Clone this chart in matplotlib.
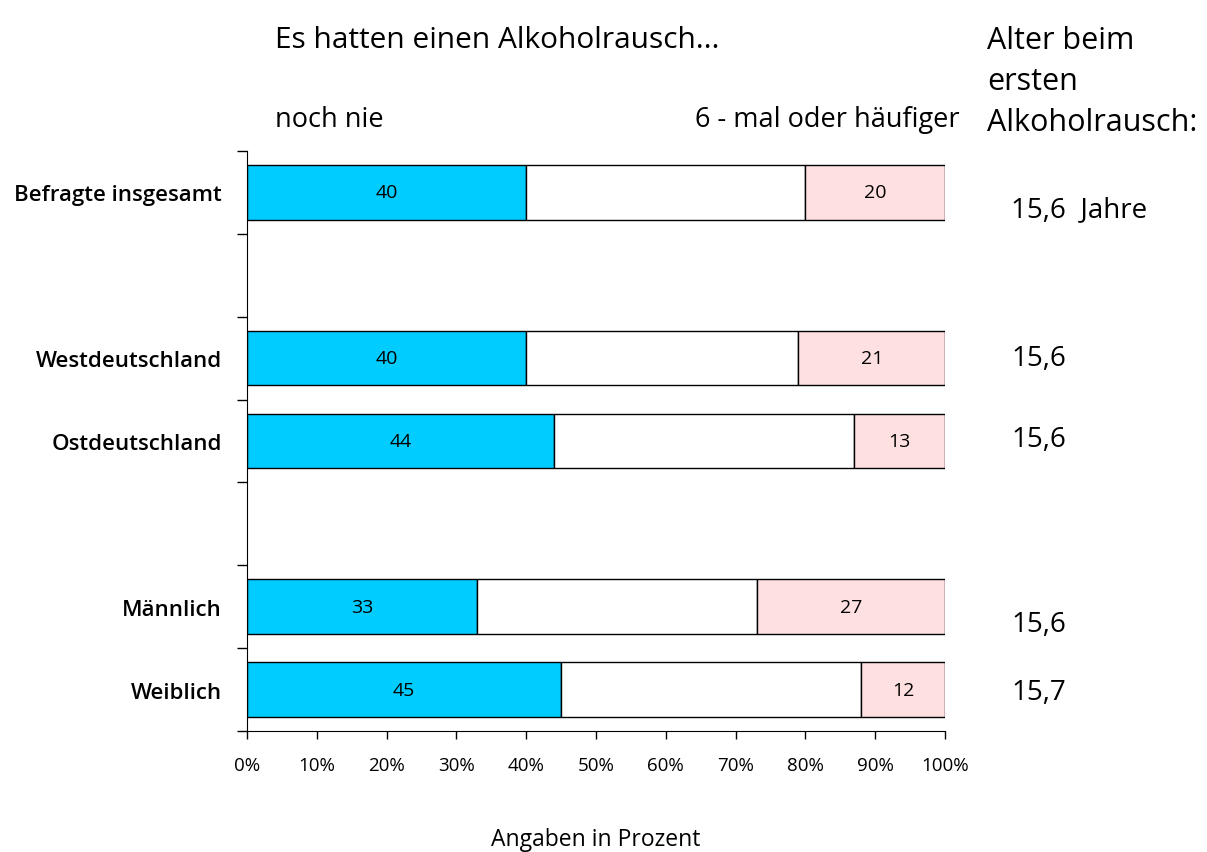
import matplotlib.pyplot as plt

plt.rcParams['font.family'] = ['Open Sans', 'DejaVu Sans']

# rows top to bottom, empty strings are the gaps
categories = ["Befragte insgesamt", "", "Westdeutschland", "Ostdeutschland", "",
              "Männlich", "Weiblich"]
noch_nie = [40, None, 40, 44, None, 33, 45]
mittel = [40, None, 39, 43, None, 40, 43]
sechs_mal = [20, None, 21, 13, None, 27, 12]
alter = ["15,6  Jahre", None, "15,6", "15,6", None, "15,6", "15,7"]
alter_shift = [0.2, 0, 0.0, -0.02, 0, 0.21, 0.03]
x_ticks = [0, 10, 20, 30, 40, 50, 60, 70, 80, 90, 100]

blue = '#00CCFF'
pink = '#FFE0E0'

fig = plt.figure(figsize=(12.07, 8.53), dpi=100)
ax = fig.add_axes([247/1207, 121/853, 698/1207, 580/853])

rows = [i for i, c in enumerate(categories) if c]
a = [noch_nie[i] for i in rows]
b = [mittel[i] for i in rows]
c = [sechs_mal[i] for i in rows]
left_c = [x + y for x, y in zip(a, b)]

h = 0.66
ax.barh(rows, a, height=h, color=blue, edgecolor='black', lw=1)
ax.barh(rows, b, left=a, height=h, color='white', edgecolor='black', lw=1)
ax.barh(rows, c, left=left_c, height=h, color=pink, edgecolor='black', lw=1)

for r, va, vc, lc in zip(rows, a, c, left_c):
    ax.text(va / 2, r, str(va), ha='center', va='center', fontsize=14)
    ax.text(lc + vc / 2, r, str(vc), ha='center', va='center', fontsize=14)
    ax.text(109.5, r + alter_shift[r], alter[r], ha='left', va='center',
            fontsize=20, clip_on=False)

ax.set_xlim(0, 100)
ax.set_ylim(len(categories) - 0.5, -0.5)

ax.set_yticks([i - 0.5 for i in range(len(categories) + 1)])
ax.set_yticklabels([])
ax.set_yticks(range(len(categories)), minor=True)
ax.set_yticklabels(categories, minor=True, fontsize=16, fontweight='semibold')
ax.tick_params(axis='y', which='minor', length=0, pad=18)
ax.tick_params(axis='y', which='major', length=7, width=1)

ax.set_xticks(x_ticks)
ax.set_xticklabels([f'{t}%' for t in x_ticks], fontsize=13.5)
ax.tick_params(axis='x', length=6, width=1, pad=12)
ax.set_xlabel('Angaben in Prozent', fontsize=16.5, labelpad=38)

for s in ['top', 'right']:
    ax.spines[s].set_visible(False)

fig.text(275/1207, 1 - 40/853, 'Es hatten einen Alkoholrausch...', fontsize=21.5,
         va='center', ha='left')
fig.text(275/1207, 1 - 120/853, 'noch nie', fontsize=19.5, va='center', ha='left')
fig.text(960/1207, 1 - 120/853, '6 - mal oder häufiger', fontsize=19.5,
         va='center', ha='right')
fig.text(987/1207, 1 - 82/853, 'Alter beim\nersten\nAlkoholrausch:', fontsize=22,
         va='center', ha='left', linespacing=1.47)

fig.savefig('out.png', dpi=100)
